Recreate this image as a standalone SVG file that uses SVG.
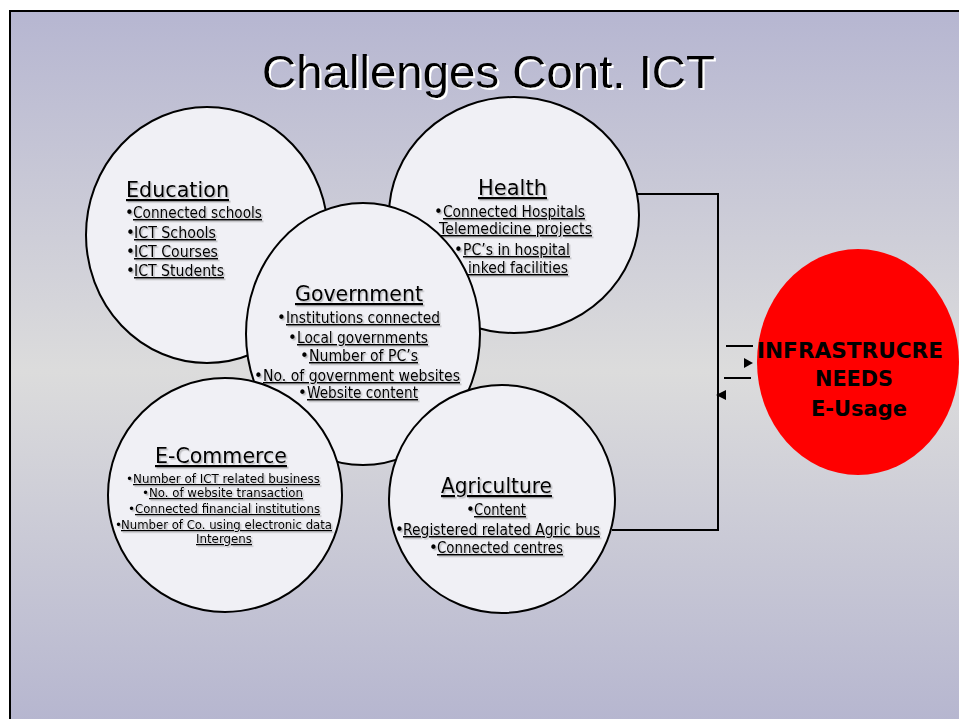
<svg xmlns="http://www.w3.org/2000/svg" width="959" height="719" viewBox="0 0 959 719">
  <defs>
    <linearGradient id="bg" x1="0" y1="0" x2="0" y2="1">
      <stop offset="0" stop-color="#b6b6d1"/>
      <stop offset="0.5" stop-color="#dcdcdc"/>
      <stop offset="1" stop-color="#b5b5cf"/>
    </linearGradient>
    <filter id="sh" x="-5%" y="-20%" width="110%" height="150%">
      <feDropShadow dx="1.5" dy="1.5" stdDeviation="0" flood-color="#555" flood-opacity="0.35"/>
    </filter>
    <filter id="tsh" x="-5%" y="-20%" width="110%" height="150%">
      <feDropShadow dx="2" dy="2" stdDeviation="0" flood-color="#ffffff" flood-opacity="1"/>
    </filter>
  </defs>
  <style>
    .circ { fill: #f0f0f5; stroke: #000; stroke-width: 2; }
    .h { font-family: "DejaVu Sans", "Liberation Sans", sans-serif; font-size: 22px; text-decoration: underline; fill: #000; }
    .i { font-family: "DejaVu Sans", "Liberation Sans", sans-serif; font-size: 15px; text-decoration: underline; fill: #000; }
    .s { font-family: "DejaVu Sans", "Liberation Sans", sans-serif; font-size: 12.5px; text-decoration: underline; fill: #000; }
    .b { font-family: "DejaVu Sans", "Liberation Sans", sans-serif; font-size: 15px; fill: #000; }
    .bs { font-family: "DejaVu Sans", "Liberation Sans", sans-serif; font-size: 12px; fill: #000; }
    .red { font-family: "DejaVu Sans", "Liberation Sans", sans-serif; font-size: 21px; font-weight: bold; fill: #000; text-anchor: middle; }
    .line { fill: none; stroke: #000; stroke-width: 2; }
  </style>
  <rect x="0" y="0" width="959" height="719" fill="#ffffff"/>
  <rect x="10" y="11" width="960" height="720" fill="url(#bg)" stroke="#000" stroke-width="2"/>

  <text x="262" y="88" font-family="Liberation Sans, Arial, sans-serif" font-size="46" fill="#000" filter="url(#tsh)" textLength="453" lengthAdjust="spacingAndGlyphs">Challenges Cont. ICT</text>

  <g id="connectors">
    <polyline class="line" points="630,194 718,194 718,530 612,530"/>
    <line class="line" x1="726" y1="346" x2="753" y2="346"/>
    <line class="line" x1="724" y1="378" x2="751" y2="378"/>
    <path d="M744,358 L753,363 L744,368 Z" fill="#000"/>
    <path d="M726,390 L716,395 L726,400 Z" fill="#000"/>
  </g>

  <g id="education">
    <ellipse class="circ" cx="207" cy="235" rx="121" ry="128"/>
    <g filter="url(#sh)">
      <text class="h" x="126" y="197" textLength="103" lengthAdjust="spacingAndGlyphs">Education</text>
      <text class="b" x="125" y="218">•</text>
      <text class="i" x="133" y="218" textLength="129" lengthAdjust="spacingAndGlyphs">Connected schools</text>
      <text class="b" x="126" y="238">•</text>
      <text class="i" x="134" y="238" textLength="82" lengthAdjust="spacingAndGlyphs">ICT Schools</text>
      <text class="b" x="126" y="257">•</text>
      <text class="i" x="134" y="257" textLength="84" lengthAdjust="spacingAndGlyphs">ICT Courses</text>
      <text class="b" x="126" y="276">•</text>
      <text class="i" x="134" y="276" textLength="90" lengthAdjust="spacingAndGlyphs">ICT Students</text>
    </g>
  </g>

  <g id="health">
    <ellipse class="circ" cx="514" cy="215" rx="125" ry="118"/>
    <g filter="url(#sh)">
      <text class="h" x="478" y="195" textLength="69" lengthAdjust="spacingAndGlyphs">Health</text>
      <text class="b" x="434" y="217">•</text>
      <text class="i" x="443" y="217" textLength="142" lengthAdjust="spacingAndGlyphs">Connected Hospitals</text>
      <text class="i" x="439" y="234" textLength="153" lengthAdjust="spacingAndGlyphs">Telemedicine projects</text>
      <text class="b" x="454" y="255">•</text>
      <text class="i" x="463" y="255" textLength="107" lengthAdjust="spacingAndGlyphs">PC’s in hospital</text>
      <text class="i" x="468" y="273" textLength="100" lengthAdjust="spacingAndGlyphs">inked facilities</text>
    </g>
  </g>

  <g id="government">
    <ellipse class="circ" cx="363" cy="334" rx="117" ry="131"/>
    <g filter="url(#sh)">
      <text class="h" x="295" y="301" textLength="128" lengthAdjust="spacingAndGlyphs">Government</text>
      <text class="b" x="277" y="323">•</text>
      <text class="i" x="286" y="323" textLength="154" lengthAdjust="spacingAndGlyphs">Institutions connected</text>
      <text class="b" x="288" y="343">•</text>
      <text class="i" x="297" y="343" textLength="131" lengthAdjust="spacingAndGlyphs">Local governments</text>
      <text class="b" x="300" y="361">•</text>
      <text class="i" x="309" y="361" textLength="109" lengthAdjust="spacingAndGlyphs">Number of PC’s</text>
      <text class="b" x="254" y="381">•</text>
      <text class="i" x="263" y="381" textLength="197" lengthAdjust="spacingAndGlyphs">No. of government websites</text>
      <text class="b" x="298" y="398">•</text>
      <text class="i" x="307" y="398" textLength="111" lengthAdjust="spacingAndGlyphs">Website content</text>
    </g>
  </g>

  <g id="ecommerce">
    <ellipse class="circ" cx="225" cy="495" rx="117" ry="117"/>
    <g filter="url(#sh)">
      <text class="h" x="155" y="463" textLength="132" lengthAdjust="spacingAndGlyphs">E-Commerce</text>
      <text class="bs" x="126" y="483">•</text>
      <text class="s" x="133" y="483" textLength="187" lengthAdjust="spacingAndGlyphs">Number of ICT related business</text>
      <text class="bs" x="142" y="497">•</text>
      <text class="s" x="149" y="497" textLength="154" lengthAdjust="spacingAndGlyphs">No. of website transaction</text>
      <text class="bs" x="128" y="513">•</text>
      <text class="s" x="135" y="513" textLength="185" lengthAdjust="spacingAndGlyphs">Connected financial institutions</text>
      <text class="bs" x="115" y="529">•</text>
      <text class="s" x="121" y="529" textLength="211" lengthAdjust="spacingAndGlyphs">Number of Co. using electronic data</text>
      <text class="s" x="196" y="543" textLength="56" lengthAdjust="spacingAndGlyphs">Intergens</text>
    </g>
  </g>

  <g id="agriculture">
    <ellipse class="circ" cx="502" cy="499" rx="113" ry="114"/>
    <g filter="url(#sh)">
      <text class="h" x="441" y="493" textLength="111" lengthAdjust="spacingAndGlyphs">Agriculture</text>
      <text class="b" x="466" y="515">•</text>
      <text class="i" x="474" y="515" textLength="52" lengthAdjust="spacingAndGlyphs">Content</text>
      <text class="b" x="395" y="535">•</text>
      <text class="i" x="403" y="535" textLength="197" lengthAdjust="spacingAndGlyphs">Registered related Agric bus</text>
      <text class="b" x="429" y="553">•</text>
      <text class="i" x="437" y="553" textLength="126" lengthAdjust="spacingAndGlyphs">Connected centres</text>
    </g>
  </g>

  <g id="infrastructure">
    <ellipse cx="858" cy="362" rx="101" ry="113" fill="#ff0000"/>
    <text class="red" x="850" y="358" textLength="186" lengthAdjust="spacingAndGlyphs">INFRASTRUCRE</text>
    <text class="red" x="854" y="386" textLength="78" lengthAdjust="spacingAndGlyphs">NEEDS</text>
    <text class="red" x="859" y="416" textLength="96" lengthAdjust="spacingAndGlyphs">E-Usage</text>
  </g>
</svg>
